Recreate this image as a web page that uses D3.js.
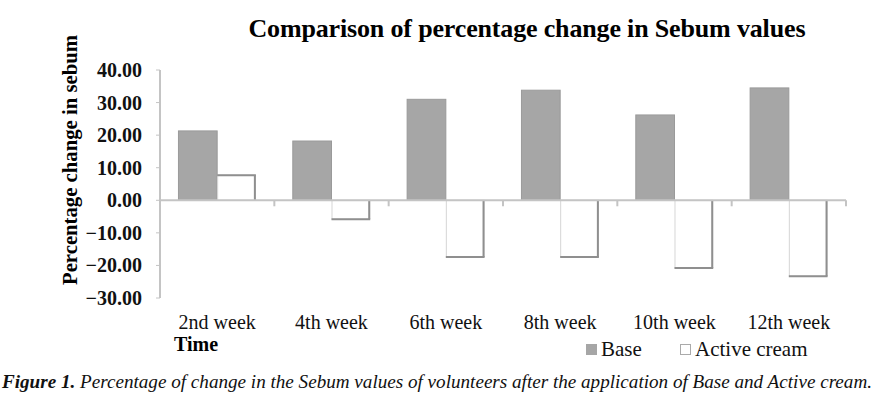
<!DOCTYPE html>
<html><head><meta charset="utf-8">
<script src="https://cdn.jsdelivr.net/npm/d3@7"></script>
<style>body{margin:0;background:#fff}svg{display:block}</style>
</head><body>
<svg id="c" width="881" height="399"></svg>
<script>
const categories = ["2nd week","4th week","6th week","8th week","10th week","12th week"];
const seriesNames = ["Base","Active cream"];
const baseValues = [21.3, 18.2, 31.0, 33.8, 26.2, 34.5];
const activeValues = [7.7, -5.8, -17.4, -17.4, -20.8, -23.3];
const yTicks = [40,30,20,10,0,-10,-20,-30];

const svg = d3.select("#c");
const font = "'Liberation Serif','Times New Roman',serif";
const x0 = d3.scaleBand().domain(categories).range([160, 846]).padding(0);
const x1 = d3.scaleBand().domain(seriesNames).range([0, x0.bandwidth()]).paddingInner(0).paddingOuter(0.477);
const y = d3.scaleLinear().domain([-30, 40]).range([298, 70]);

// title
svg.append("text").attr("x", 527).attr("y", 37).attr("text-anchor","middle")
  .attr("font-family", font).attr("font-weight","bold").attr("font-size", 26)
  .attr("textLength", 557).attr("lengthAdjust","spacing")
  .text("Comparison of percentage change in Sebum values");

// y axis line and ticks
const axisCol = "#c4c4c4";
svg.append("line").attr("x1",160).attr("x2",160).attr("y1",y(40)).attr("y2",y(-30))
  .attr("stroke",axisCol).attr("stroke-width",2);
svg.selectAll(".yt").data(yTicks).join("line")
  .attr("x1",156).attr("x2",160).attr("y1",d=>y(d)).attr("y2",d=>y(d))
  .attr("stroke",axisCol).attr("stroke-width",1);
svg.selectAll(".yl").data(yTicks).join("text")
  .attr("x",142).attr("y",d=>y(d)+7).attr("text-anchor","end")
  .attr("font-family",font).attr("font-weight","bold").attr("font-size",20).attr("fill","#111")
  .text(d=>d3.format(".2f")(d));

// y title
svg.append("text").attr("transform","translate(77,160) rotate(-90)").attr("text-anchor","middle")
  .attr("font-family",font).attr("font-weight","bold").attr("font-size",22)
  .attr("textLength",250).attr("lengthAdjust","spacingAndGlyphs")
  .text("Percentage change in sebum");

// bars
const data = categories.map((c,i)=>({cat:c, vals:[{s:"Base",v:baseValues[i]},{s:"Active cream",v:activeValues[i]}]}));
const g = svg.selectAll(".grp").data(data).join("g").attr("transform",d=>`translate(${x0(d.cat)},0)`);
g.each(function(d){
  const gg = d3.select(this);
  d.vals.forEach(p=>{
    const xs = x1(p.s), w = x1.bandwidth();
    const top = y(Math.max(0,p.v)), bot = y(Math.min(0,p.v));
    if(p.s==="Base"){
      gg.append("rect").attr("x",xs).attr("y",top).attr("width",w).attr("height",bot-top)
        .attr("fill","#a6a6a6").attr("stroke","#9a9a9a").attr("stroke-width",1);
    } else {
      gg.append("rect").attr("x",xs+0.5).attr("y",top).attr("width",w-1).attr("height",bot-top)
        .attr("fill","#fff").attr("stroke","#d6d6d6").attr("stroke-width",1);
      const edgeY = p.v<0 ? bot : top;
      gg.append("line").attr("x1",xs+w-1).attr("x2",xs+w-1).attr("y1",top).attr("y2",bot)
        .attr("stroke","#8f8f8f").attr("stroke-width",2);
      gg.append("line").attr("x1",xs).attr("x2",xs+w).attr("y1",edgeY).attr("y2",edgeY)
        .attr("stroke","#8f8f8f").attr("stroke-width",2);
    }
  });
});

// x axis
svg.append("line").attr("x1",160).attr("x2",846).attr("y1",y(0)).attr("y2",y(0))
  .attr("stroke",axisCol).attr("stroke-width",2);
const bounds = categories.slice(1).map(c=>x0(c)).concat([x0.range()[1]]);
svg.selectAll(".xt").data(bounds).join("line")
  .attr("x1",d=>d).attr("x2",d=>d).attr("y1",y(0)).attr("y2",y(0)+6)
  .attr("stroke",axisCol).attr("stroke-width",2);
svg.selectAll(".xl").data(categories).join("text")
  .attr("x",d=>x0(d)+x0.bandwidth()/2).attr("y",329).attr("text-anchor","middle")
  .attr("font-family",font).attr("font-size",20).attr("fill","#111")
  .text(d=>d);
svg.append("text").attr("x",174).attr("y",351).attr("font-family",font).attr("font-weight","bold")
  .attr("font-size",20).text("Time");

// legend
const legX = [586, 680];
const legFill = ["#a6a6a6","#fff"];
const legStroke = ["#a6a6a6","#aaa"];
seriesNames.forEach((s,i)=>{
  svg.append("rect").attr("x",legX[i]+0.5).attr("y",344.5).attr("width",10).attr("height",10)
    .attr("fill",legFill[i]).attr("stroke",legStroke[i]).attr("stroke-width",1);
  svg.append("text").attr("x",legX[i]+15).attr("y",356).attr("font-family",font)
    .attr("font-size",21).attr("fill","#111").text(s);
});

// caption
const cap = svg.append("text").attr("x",2).attr("y",388).attr("font-family",font)
  .attr("font-style","italic").attr("font-size",19).attr("fill","#111")
  .attr("textLength",870).attr("lengthAdjust","spacingAndGlyphs");
cap.append("tspan").attr("font-weight","bold").text("Figure 1.");
cap.append("tspan").text(" Percentage of change in the Sebum values of volunteers after the application of Base and Active cream.");
</script>
</body></html>
